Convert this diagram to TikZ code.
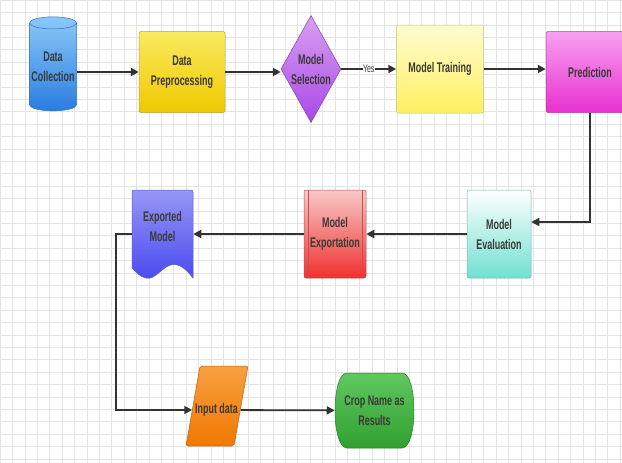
\documentclass[tikz,border=0pt]{standalone}
\usepackage{fontspec}
\newfontfamily\etiq[FakeStretch=0.64]{Liberation Sans}
\usepackage{tikz}
\usetikzlibrary{shapes.geometric,arrows.meta}
\definecolor{trait}{RGB}{50,50,50}
\definecolor{texte}{RGB}{58,58,54}
\definecolor{grille}{RGB}{228,228,228}
% couleurs des boites
\definecolor{bleuH}{RGB}{140,200,248}
\definecolor{bleuB}{RGB}{42,125,224}
\definecolor{bleuT}{RGB}{48,112,192}
\definecolor{jauneH}{RGB}{250,234,96}
\definecolor{jauneB}{RGB}{240,200,0}
\definecolor{jauneT}{RGB}{176,160,64}
\definecolor{violetH}{RGB}{216,160,240}
\definecolor{violetB}{RGB}{168,72,232}
\definecolor{violetT}{RGB}{128,64,176}
\definecolor{paleH}{RGB}{255,251,208}
\definecolor{paleB}{RGB}{255,240,96}
\definecolor{paleT}{RGB}{192,192,128}
\definecolor{roseH}{RGB}{248,160,240}
\definecolor{roseB}{RGB}{232,48,208}
\definecolor{roseT}{RGB}{176,64,160}
\definecolor{cyanB}{RGB}{112,224,208}
\definecolor{cyanT}{RGB}{128,176,168}
\definecolor{rougeH}{RGB}{248,200,200}
\definecolor{rougeB}{RGB}{240,48,48}
\definecolor{rougeT}{RGB}{192,80,80}
\definecolor{indigoH}{RGB}{150,150,246}
\definecolor{indigoB}{RGB}{74,74,240}
\definecolor{indigoT}{RGB}{90,90,200}
\definecolor{orangeH}{RGB}{248,160,64}
\definecolor{orangeB}{RGB}{240,120,0}
\definecolor{orangeT}{RGB}{192,96,16}
\definecolor{vertH}{RGB}{96,200,96}
\definecolor{vertB}{RGB}{48,160,48}
\definecolor{vertT}{RGB}{32,128,32}
\tikzset{boite/.style={
    line width=0.5pt,
    text=texte,
    align=center,
    inner sep=0pt,
    font=\etiq\bfseries\fontsize{14}{20}\selectfont}}
\tikzset{fleche/.style={
    -{Triangle[length=8pt,width=8pt]},
    draw=trait,
    line width=2.2pt}}

\begin{document}
\begin{tikzpicture}[x=1pt,y=-1pt]
  % fond
  \useasboundingbox (0,0) rectangle (622,463);
  \fill[white] (0,0) rectangle (622,463);
  \foreach \i in {0,...,50} \draw[grille, line width=0.5pt] (\i*12.4,0) -- (\i*12.4,463);
  \foreach \j in {0,...,38} \draw[grille, line width=0.5pt] (0,\j*12.4) -- (622,\j*12.4);

  % ligne du haut
  \node[boite, cylinder, shape border rotate=90, aspect=0.28,
    minimum width=47, minimum height=94, draw=bleuT,
    top color=bleuH, bottom color=bleuB]
    (collecte) at (53,67) {Data\\Collection};
  \node[boite, rectangle, rounded corners=2pt, minimum width=86, minimum height=81,
    draw=jauneT, top color=jauneH, bottom color=jauneB]
    (pretrait) at (182,72) {Data\\Preprocessing};
  \node[boite, diamond, aspect=0.55, minimum width=60, minimum height=107,
    draw=violetT, top color=violetH, bottom color=violetB]
    (selection) at (311,69) {Model\\Selection};
  \node[boite, rectangle, rounded corners=2pt, minimum width=87, minimum height=88,
    draw=paleT, top color=paleH, bottom color=paleB]
    (entrainement) at (440,69) {Model Training};
  \node[boite, rectangle, rounded corners=2pt, minimum width=88, minimum height=81,
    draw=roseT, top color=roseH, bottom color=roseB]
    (prediction) at (590,72) {Prediction};

  % ligne du milieu
  \node[boite, rectangle, rounded corners=2pt, minimum width=64, minimum height=88,
    draw=cyanT, top color=white, bottom color=cyanB]
    (evaluation) at (499,234) {Model\\Evaluation};
  \node[boite, rectangle, rounded corners=2pt, minimum width=62, minimum height=88,
    draw=rougeT, top color=rougeH, bottom color=rougeB]
    (exportation) at (335,234) {Model\\Exportation};
  \draw[rougeT, line width=0.5pt]
    ([xshift=4]exportation.north west) -- ([xshift=4]exportation.south west)
    ([xshift=-4]exportation.north east) -- ([xshift=-4]exportation.south east);
  \shade[top color=indigoH, bottom color=indigoB,
    draw=indigoT, line width=0.5pt, rounded corners=2pt]
    (132,268) -- (132,190) -- (193,190) [sharp corners] -- (193,278)
    .. controls (184,266) and (176,262) .. (168,266)
    .. controls (160,270) and (154,280) .. (146,278)
    .. controls (140,277) and (136,272) .. cycle;
  \node[boite, rectangle, minimum width=61, minimum height=78]
    (exporte) at (162.5,226) {Exported\\Model};

  % ligne du bas
  \shade[top color=orangeH, bottom color=orangeB, draw=orangeT, line width=0.5pt,
    rounded corners=2pt]
    (200,366) -- (248,366) -- (234,446) -- (186,446) -- cycle;
  \node[boite, rectangle, minimum width=48, minimum height=60]
    (entree) at (216.5,410) {Input data};
  \shade[top color=vertH, bottom color=vertB, draw=vertT, line width=0.5pt]
    (347,373) -- (402,373) .. controls (418,373) and (418,448) .. (402,448)
    -- (347,448) .. controls (331,448) and (331,373) .. cycle;
  \node[boite, rectangle, minimum width=79, minimum height=75]
    (resultat) at (374.5,410.5) {Crop Name as\\Results};

  % fleches
  \draw[fleche] (collecte.east |- pretrait) -- (pretrait.west);
  \draw[fleche] (pretrait) -- (pretrait -| selection.west);
  \draw[fleche] (selection) -- node[fill=white, inner sep=0.3pt,
    font=\etiq\fontsize{11}{12}\selectfont, text=texte] {Yes} (entrainement);
  \draw[fleche] (entrainement) -- (entrainement -| prediction.west);
  \draw[fleche, line width=1.6pt] (prediction.south) |- ([yshift=12]evaluation.east);
  \draw[fleche] (evaluation) -- (exportation);
  \draw[fleche] (exportation) -- (exportation -| exporte.east);
  \draw[fleche, line width=1.8pt] (exportation -| exporte.west) -- ++(-16,0) |- (entree);
  \draw[fleche, line width=1.8pt] (entree) -- (resultat);
\end{tikzpicture}
\end{document}
